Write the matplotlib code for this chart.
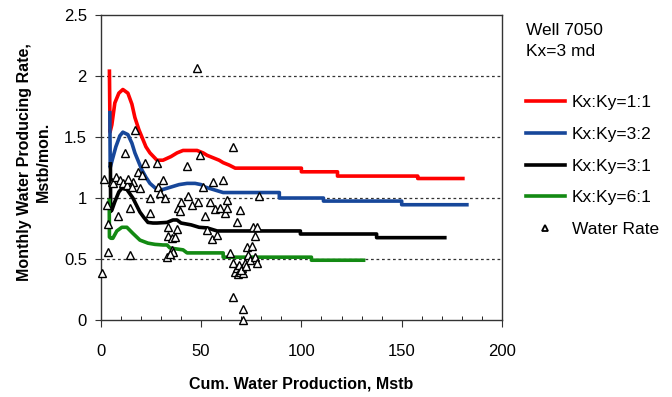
import matplotlib.pyplot as plt
from matplotlib.lines import Line2D
from matplotlib.ticker import MultipleLocator

plt.rcParams['font.family'] = ['Liberation Sans', 'DejaVu Sans']

# simulated rate curves (cum. water, Mstb  vs  monthly rate, Mstb/mon.)
x_11 = [4.3, 4.6, 5.5, 7, 9, 11, 13.5, 15.5, 17, 19, 20.5, 22.5, 24.5, 28, 31, 35, 38, 41,
        45, 48, 51, 53, 56, 59, 61, 64, 67, 100, 100, 118, 118, 158, 158, 180.5]
y_11 = [2.04, 1.54, 1.60, 1.78, 1.86, 1.89, 1.86, 1.77, 1.66, 1.56, 1.50, 1.42, 1.37, 1.31,
        1.31, 1.34, 1.37, 1.39, 1.39, 1.39, 1.37, 1.35, 1.33, 1.31, 1.29, 1.27, 1.245, 1.245,
        1.215, 1.215, 1.18, 1.18, 1.16, 1.16]

x_32 = [4.5, 4.7, 5.5, 7.5, 9.5, 11, 13.5, 15.5, 17, 19, 20.5, 22.5, 24.5, 28, 31, 35, 39,
        43, 47, 50, 52, 56, 61, 89, 89, 111, 111, 150, 150, 182.5]
y_32 = [1.70, 1.25, 1.30, 1.42, 1.51, 1.54, 1.52, 1.45, 1.37, 1.29, 1.23, 1.17, 1.12, 1.07,
        1.07, 1.09, 1.11, 1.12, 1.12, 1.11, 1.09, 1.07, 1.045, 1.045, 1.0, 1.0, 0.975, 0.975,
        0.945, 0.945]

x_31 = [4.8, 4.9, 5.5, 7, 9, 10.5, 13, 16, 19.5, 21.5, 23.5, 26, 28, 33, 36, 38, 40, 45, 49,
        53, 58, 99.5, 99.5, 137.5, 137.5, 171.5]
y_31 = [1.28, 0.89, 0.90, 0.97, 1.05, 1.08, 1.07, 1.00, 0.885, 0.84, 0.80, 0.795, 0.795,
        0.80, 0.82, 0.82, 0.795, 0.78, 0.76, 0.755, 0.73, 0.73, 0.705, 0.705, 0.675, 0.675]

x_61 = [4.2, 4.3, 5, 6, 8, 10.5, 13, 16, 19.5, 23.5, 27, 31, 33, 34.5, 41, 43, 61, 61, 105,
        105, 131]
y_61 = [0.98, 0.68, 0.67, 0.67, 0.73, 0.76, 0.76, 0.71, 0.655, 0.63, 0.62, 0.615, 0.615,
        0.59, 0.575, 0.55, 0.55, 0.515, 0.515, 0.49, 0.49]

# measured water rate
obs_x = [0.5, 1.5, 3, 3.5, 3.5, 5.5, 6, 7.5, 8.5, 9.5, 11, 12, 13, 14.5, 14.5, 16, 17, 18.5,
         19.5, 20.5, 22, 24.5, 24.5, 28, 28.5, 29.5, 31, 32, 33, 33.5, 33.5, 35.5, 35.5, 36,
         37, 38, 38.5, 39.5, 40, 43, 43.5, 45.5, 48, 48.5, 49.5, 51, 52, 53, 54.5, 55.5, 56,
         57, 58, 59.5, 61, 62, 63, 63, 64.5, 66, 66, 66, 67, 68, 68, 68.5, 69.5, 69.5, 70.5,
         71, 71, 71, 72, 73, 73.5, 74.5, 75.5, 76, 77, 77, 78, 78, 79, 13.5, 15.5, 69, 70,
         72.5, 34.5]
obs_y = [0.385, 1.16, 0.94, 0.79, 0.555, 1.13, 1.12, 1.17, 0.85, 1.15, 1.12, 1.37, 1.11,
         0.92, 0.53, 1.13, 1.56, 1.21, 1.08, 1.19, 1.29, 1.0, 0.88, 1.29, 1.09, 1.04, 1.15,
         1.0, 0.52, 0.76, 0.69, 0.67, 0.57, 0.56, 0.68, 0.75, 0.92, 0.89, 0.97, 1.26, 1.02,
         0.94, 2.07, 0.97, 1.35, 1.09, 0.85, 0.74, 0.97, 0.66, 1.13, 0.91, 0.70, 0.92, 1.15,
         0.88, 0.98, 0.92, 0.55, 1.42, 0.47, 0.19, 0.39, 0.80, 0.43, 0.38, 0.90, 0.39, 0.43,
         0.385, 0.09, 0.0, 0.47, 0.60, 0.53, 0.49, 0.61, 0.76, 0.69, 0.52, 0.76, 0.47, 1.02,
         1.16, 1.09, 0.45, 0.41, 0.44, 0.54]

fig = plt.figure(figsize=(6.72, 3.97), dpi=100)
ax = fig.add_axes([0.150, 0.194, 0.597, 0.768])

l1, = ax.plot(x_11, y_11, color='#ff0000', lw=2.6, label='Kx:Ky=1:1')
l2, = ax.plot(x_32, y_32, color='#17479a', lw=2.6, label='Kx:Ky=3:2')
l3, = ax.plot(x_31, y_31, color='black', lw=2.6, label='Kx:Ky=3:1')
l4, = ax.plot(x_61, y_61, color='#138a13', lw=2.6, label='Kx:Ky=6:1')
ax.plot(obs_x, obs_y, ls='', marker='^', ms=5.5, mfc='white', mec='black', mew=1.0,
        clip_on=False, zorder=5)

ax.set_xlim(0, 200)
ax.set_ylim(0, 2.5)
ax.xaxis.set_major_locator(MultipleLocator(50))
ax.xaxis.set_minor_locator(MultipleLocator(10))
ax.set_yticks([0, 0.5, 1, 1.5, 2, 2.5])
ax.set_yticklabels(['0', '0.5', '1', '1.5', '2', '2.5'])

for y in [0.5, 1.0, 1.5, 2.0]:
    ax.axhline(y, color='#333333', lw=0.9, ls=(0, (2.2, 2.2)), zorder=0)

ax.tick_params(axis='both', labelsize=12, color='#333333')
ax.tick_params(axis='x', which='major', direction='out', length=5, pad=12)
ax.tick_params(axis='x', which='minor', direction='in', length=3)
ax.tick_params(axis='y', which='major', direction='out', length=4, pad=6)
for s in ax.spines.values():
    s.set_color('#333333')
    s.set_linewidth(1.0)

fig.text(0.05, 0.592, 'Monthly Water Producing Rate,\nMstb/mon.', rotation=90,
         ha='center', va='center', multialignment='center', fontsize=11.5,
         fontweight='bold', linespacing=1.3)
ax.set_xlabel('Cum. Water Production, Mstb', fontsize=11.5, fontweight='bold', labelpad=13)

fig.text(0.783, 0.942, 'Well 7050\nKx=3 md', ha='left', va='top', fontsize=12.5,
         linespacing=1.5)

water = Line2D([], [], ls='', marker='^', ms=4, mfc='white', mec='black', mew=1.3)
fig.legend([l1, l2, l3, l4, water],
           ['Kx:Ky=1:1', 'Kx:Ky=3:2', 'Kx:Ky=3:1', 'Kx:Ky=6:1', 'Water Rate'],
           loc='upper left', bbox_to_anchor=(0.782, 0.760), frameon=False, fontsize=12.5,
           handlelength=2.3, handletextpad=0.35, labelspacing=0.95, borderaxespad=0,
           borderpad=0)

fig.savefig('out.png', dpi=100)
